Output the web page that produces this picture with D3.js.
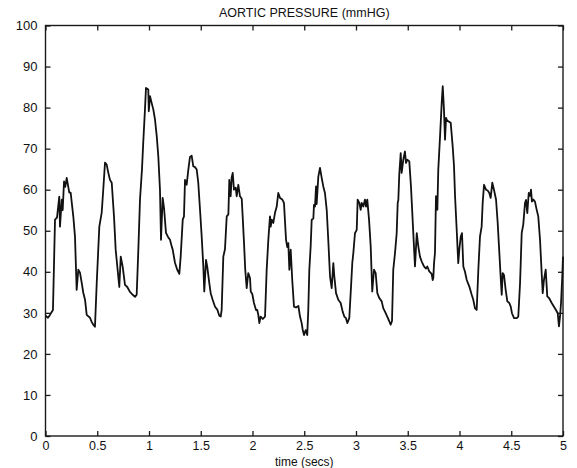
<!DOCTYPE html>
<html>
<head>
<meta charset="utf-8">
<script src="https://cdn.jsdelivr.net/npm/d3@7"></script>
<style>
  html, body { margin: 0; padding: 0; background: #fff; }
  svg { display: block; }
  text { font-family: "Liberation Sans", Arial, Helvetica, sans-serif; fill: #111; }
</style>
</head>
<body>
<svg id="chart" width="577" height="468"></svg>
<script>
// ---- data ----
const title = "AORTIC PRESSURE (mmHG)";
const xLabel = "time (secs)";
const xTicks = [0, 0.5, 1, 1.5, 2, 2.5, 3, 3.5, 4, 4.5, 5];
const yTicks = [0, 10, 20, 30, 40, 50, 60, 70, 80, 90, 100];

const time = [
  0.000,0.024,0.043,0.072,0.092,0.111,0.133,0.140,0.157,0.166,0.179,0.191,0.205,0.220,0.230,0.243,0.269,0.285,0.301,0.317,0.333,0.350,0.365,0.382,0.398,0.430,0.446,0.462,0.478,
  0.495,0.520,0.543,0.558,0.575,0.591,0.607,0.623,0.640,0.662,0.678,0.713,0.727,0.746,0.768,0.790,0.816,0.843,0.865,0.881,
  0.897,0.913,0.932,0.945,0.961,0.971,0.993,0.998,1.010,1.026,1.042,1.058,1.075,1.090,1.106,1.116,1.132,1.145,1.164,1.184,1.203,1.219,1.229,1.251,1.273,1.293,
  1.306,1.326,1.338,1.348,1.364,1.380,1.396,1.412,1.428,1.444,1.461,1.476,1.493,1.509,1.525,1.534,1.551,1.563,1.583,1.596,1.615,1.638,1.660,1.679,1.693,
  1.702,1.718,1.734,1.751,1.767,1.776,1.789,1.799,1.809,1.821,1.838,1.847,1.863,1.879,1.896,1.905,1.918,1.930,1.944,1.959,1.976,1.983,1.998,2.014,2.034,2.046,2.056,2.066,2.079,2.099,2.121,
  2.137,2.153,2.169,2.176,2.186,2.201,2.217,2.234,2.249,2.266,2.288,2.304,2.324,2.336,2.346,2.356,2.369,2.384,2.401,2.420,2.443,2.459,2.475,2.485,2.498,2.514,2.529,
  2.539,2.549,2.562,2.572,2.588,2.594,2.604,2.614,2.620,2.636,2.652,2.669,2.684,2.700,2.717,2.732,2.749,2.765,2.781,2.790,2.807,2.829,2.852,2.871,2.887,2.903,2.916,2.935,
  2.952,2.964,2.974,2.990,3.007,3.016,3.032,3.045,3.055,3.071,3.087,3.097,3.109,3.126,3.142,3.157,3.174,3.190,3.206,3.225,3.248,3.264,3.280,3.302,3.322,3.335,3.348,
  3.360,3.377,3.393,3.403,3.409,3.418,3.432,3.441,3.457,3.473,3.483,3.496,3.515,3.531,3.544,3.560,3.570,3.587,3.602,3.618,3.635,3.657,3.676,3.689,3.708,3.731,3.741,3.747,
  3.754,3.763,3.773,3.786,3.795,3.812,3.828,3.838,3.850,3.860,3.870,3.882,3.892,3.915,3.934,3.947,3.957,3.973,3.988,3.998,4.012,4.024,4.037,4.053,4.070,4.095,4.118,4.133,4.150,4.166,
  4.182,4.198,4.214,4.224,4.237,4.256,4.272,4.288,4.301,4.317,4.333,4.353,4.369,4.385,4.401,4.408,4.417,4.430,4.446,4.462,4.481,4.495,4.507,4.527,4.553,4.568,
  4.585,4.601,4.616,4.633,4.643,4.655,4.669,4.681,4.691,4.700,4.713,4.729,4.746,4.761,4.778,4.794,4.804,4.816,4.833,4.848,4.868,4.891,4.913,4.932,4.949,4.961,4.971,4.981,4.993,5.000
];
const pressure = [
  29.3,28.8,29.5,30.7,52.7,53.2,58.3,51.0,57.6,55.0,62.0,60.7,62.9,60.7,59.3,59.3,53.4,48.5,35.6,40.5,39.8,37.3,34.9,33.2,29.5,28.8,27.8,27.1,26.6,
  37.3,51.0,54.4,60.0,66.6,66.1,64.1,62.4,61.7,53.4,45.4,36.3,43.7,41.2,36.8,36.3,35.1,34.4,33.9,34.4,
  45.4,57.6,64.9,71.8,79.5,84.8,84.4,79.1,82.8,81.1,79.5,77.1,73.0,68.1,60.0,47.8,58.0,55.6,49.5,48.5,47.8,46.2,45.4,42.2,40.5,39.5,
  43.7,52.7,53.5,62.4,61.2,64.9,68.0,68.3,65.7,65.5,64.9,61.7,55.1,48.6,41.3,35.2,42.9,41.2,37.2,34.8,33.2,31.5,30.8,29.3,29.1,
  30.7,43.7,45.5,53.5,54.0,62.4,58.4,63.0,64.1,60.0,60.5,58.4,61.2,58.4,57.8,53.5,47.0,40.5,36.0,39.7,38.5,35.2,34.6,32.4,30.7,30.7,29.5,27.5,29.1,28.5,29.1,
  40.5,47.8,53.5,51.0,52.7,51.9,54.3,55.9,59.2,58.0,57.6,56.8,47.8,46.0,47.0,40.5,45.4,38.0,31.5,31.3,31.7,29.1,27.5,25.9,24.6,25.8,24.6,
  30.7,40.5,46.2,52.7,53.0,56.3,55.9,60.8,56.5,63.2,65.3,62.8,60.8,59.2,55.1,47.8,38.9,36.0,42.1,39.0,34.8,33.2,32.4,30.3,29.1,28.7,27.5,28.7,
  36.4,42.1,44.5,49.4,50.2,57.6,56.8,55.1,56.8,55.9,57.6,55.9,57.6,52.7,46.2,35.2,40.5,39.7,34.8,33.6,32.8,31.1,30.3,29.1,27.9,27.1,28.0,
  40.5,44.6,49.4,56.8,57.5,63.7,68.9,64.1,67.3,69.3,66.5,67.3,66.9,60.8,54.3,46.2,41.3,49.4,46.2,43.7,42.5,41.3,40.8,41.3,40.1,39.5,38.0,38.5,
  42.1,44.6,58.4,55.1,64.9,73.0,81.1,85.2,79.5,72.2,77.5,76.7,76.7,76.3,70.6,65.7,58.4,50.2,42.1,45.4,48.6,49.4,41.3,40.0,38.0,36.4,34.4,33.2,31.1,30.7,
  40.5,48.6,51.0,56.8,61.2,60.0,59.8,59.2,58.0,61.7,60.0,57.6,51.9,44.6,37.2,34.4,39.7,39.2,35.6,32.8,32.4,31.5,29.9,28.7,28.7,29.1,
  37.2,49.4,51.5,56.8,57.5,54.3,59.2,58.5,60.0,57.1,57.6,57.1,55.1,53.5,47.8,39.7,34.8,38.0,40.5,34.0,33.5,32.4,31.5,30.7,29.9,26.7,29.0,32.4,38.9,43.7
];

// ---- layout ----
const W = 577, H = 468;
const margin = { left: 45.5, right: 14, top: 25.5, bottom: 32 };
const svg = d3.select("#chart");

const x = d3.scaleLinear().domain([0, 5]).range([margin.left, W - margin.right]);
const y = d3.scaleLinear().domain([0, 100]).range([H - margin.bottom, margin.top]);

const axisColor = "#1a1a1a";
const tickLen = 5;

// frame
svg.append("rect")
  .attr("x", x(0)).attr("y", y(100))
  .attr("width", x(5) - x(0)).attr("height", y(0) - y(100))
  .attr("fill", "none").attr("stroke", axisColor).attr("stroke-width", 1.4);

// axes with inward ticks
const fmt = d => String(d);
const xAxisB = d3.axisBottom(x).tickValues(xTicks).tickSizeInner(-tickLen).tickSizeOuter(0).tickPadding(5).tickFormat(fmt);
const xAxisT = d3.axisTop(x).tickValues(xTicks).tickSizeInner(-tickLen).tickSizeOuter(0).tickFormat("");
const yAxisL = d3.axisLeft(y).tickValues(yTicks).tickSizeInner(-tickLen).tickSizeOuter(0).tickPadding(8).tickFormat(fmt);
const yAxisR = d3.axisRight(y).tickValues(yTicks).tickSizeInner(-tickLen).tickSizeOuter(0).tickFormat("");

function style(g, size) {
  g.select(".domain").remove();
  g.selectAll(".tick line").attr("stroke", axisColor).attr("stroke-width", 1.3);
  g.selectAll(".tick text").attr("font-size", size).attr("fill", "#111")
    .style("font-family", '"Liberation Sans", Arial, sans-serif');
}
svg.append("g").attr("transform", `translate(0,${y(0)})`).call(xAxisB).call(style, 12.5);
svg.append("g").attr("transform", `translate(0,${y(100)})`).call(xAxisT).call(style, 12.5);
svg.append("g").attr("transform", `translate(${x(0)},0)`).call(yAxisL).call(style, 13);
svg.append("g").attr("transform", `translate(${x(5)},0)`).call(yAxisR).call(style, 13);

// waveform
const pts = time.map((t, i) => [t, pressure[i]]);
const line = d3.line().x(d => x(d[0])).y(d => y(d[1]));
svg.append("path")
  .datum(pts)
  .attr("d", line)
  .attr("fill", "none")
  .attr("stroke", "#111")
  .attr("stroke-width", 1.8)
  .attr("stroke-linejoin", "round");

// title and label
svg.append("text")
  .attr("x", (x(0) + x(5)) / 2).attr("y", 17)
  .attr("text-anchor", "middle").attr("font-size", 12.5)
  .text(title);
svg.append("text")
  .attr("x", (x(0) + x(5)) / 2).attr("y", 466)
  .attr("text-anchor", "middle").attr("font-size", 12)
  .text(xLabel);
</script>
</body>
</html>
